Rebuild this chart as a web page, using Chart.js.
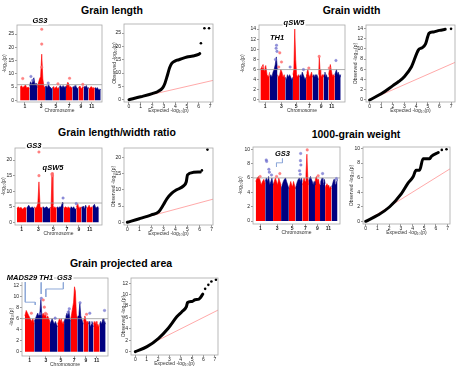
<!DOCTYPE html>
<html>
<head>
<meta charset="utf-8">
<script src="https://cdn.jsdelivr.net/npm/chart.js@4.4.0/dist/chart.umd.min.js"></script>
<style>
  body { margin: 0; background: #fff; }
  #fig { position: relative; width: 463px; height: 374px; overflow: hidden; font-family: 'Liberation Sans', Arial, sans-serif; }
  #fig canvas { position: absolute; }
  .ttl { position: absolute; font-weight: bold; font-size: 10.5px; white-space: nowrap; transform: translate(-50%, -50%); color: #000; z-index: 5; }
  .gene { position: absolute; font-weight: bold; font-style: italic; font-size: 7.5px; line-height: 8px; white-space: nowrap; transform: translate(-50%, -50%); color: #000; z-index: 5; }
  .gene.bg { background: #fff; padding: 0 1px; }
</style>
</head>
<body>
<div id="fig"></div>
<script>
// rice chromosome lengths (Mb)
const CHR_LEN = [43.3, 35.9, 36.4, 35.5, 29.9, 31.2, 29.7, 28.4, 23.0, 23.2, 29.0, 27.5];
const CHR_LABELS = ['1', '3', '5', '7', '9', '11'];
const CHR_LABEL_IDX = [0, 2, 4, 6, 8, 10];
const QQ_X_TICKS = [0, 1, 2, 3, 4, 5, 6, 7];

// Grain length
const glHeights = [
  [5, 5.5, 4.8, 5.2, 5.8, 4.6, 5, 4.4],
  [5.5, 7, 6, 7.5, 8.5, 5.8, 6.5, 4.8],
  [5.5, 6.5, 8, 9, 17.4, 8, 5.2, 4.8],
  [5, 5.5, 4.6, 6, 5.2, 4.8, 4.4, 4.8],
  [4.8, 5.2, 4.4, 4.8, 5.2, 4.4, 4.8, 4.3],
  [4.8, 5.6, 5.2, 4.8, 5.6, 4.8, 5.2, 4.8],
  [5.2, 5.8, 6.8, 6.2, 4.8, 5.2, 4.8, 4.3],
  [4.8, 5.2, 4.8, 5.6, 5.2, 4.8, 4.4, 4.8],
  [4.8, 5.2, 5.4, 4.8, 4.4, 4.8, 5.2, 4.8],
  [4.8, 5.2, 4.8, 5.2, 5.6, 4.8, 4.4, 4.8],
  [4.8, 4.4, 4.8, 5.2, 4.8, 4.4, 4.8, 4.3],
  [4.3, 4.8, 4.3, 4.8, 4.3, 3.9, 4.3, 3.9]
];
const glOutMb = [12, 50, 58, 100, 100, 100, 130, 229, 175, 290];
const glOutVal = [8.2, 9, 7.5, 12.5, 21.2, 26.8, 6.5, 8.3, 6.2, 6];
const glYTicks = [0, 5, 10, 15, 20, 25];
const glQQExp = [0, 1, 2, 2.5, 2.9, 3.1, 3.3, 3.5, 3.7, 4, 4.3, 5, 5.5, 6, 6.1];
const glQQObs = [0, 1.1, 2.3, 3.1, 4.4, 6.2, 9, 12, 13.7, 14.6, 15, 16, 16.4, 17, 17.3];
const glQQTopExp = [6.2, 6.5, 6.9];
const glQQTopObs = [21.2, 26.8, 26.8];

// Grain width
const gwHeights = [
  [6, 6.5, 7, 5.5, 6.8, 5, 4.5, 5.5],
  [4.5, 5, 4.5, 5.5, 6, 7, 8.5, 6],
  [5, 4.5, 5, 6, 5.5, 4.5, 5, 4],
  [4.5, 4, 5, 4.5, 5, 4.5, 4, 4.5],
  [5, 6, 14, 8, 5, 4.5, 5, 4.5],
  [4.5, 5, 4.5, 5.5, 5, 4.5, 4, 4.5],
  [5, 5.5, 6, 5, 4.5, 5, 5.5, 4.5],
  [4.5, 5, 4.5, 5, 4.5, 5, 4.5, 4],
  [5, 8.5, 6, 5, 4.5, 5, 4.5, 5],
  [4.5, 5, 5.5, 4.5, 5, 4.5, 4, 4.5],
  [5, 6, 7, 6, 5, 4.5, 5, 4.5],
  [5, 5.5, 6, 5, 5.5, 5, 4.5, 5]
];
const gwOutMb = [12, 75, 73, 77, 70, 90, 98, 85, 138, 200, 225, 273, 351, 320];
const gwOutVal = [6.5, 10.8, 10.2, 9.6, 8, 9.3, 7.5, 6.5, 6.5, 6, 6.3, 8.6, 7.8, 6.3];
const gwYTicks = [0, 2, 4, 6, 8, 10, 12, 14];
const gwQQExp = [0, 1, 2, 2.5, 3, 3.6, 4.2, 4.5, 4.8, 5, 5.1, 5.5, 6, 6.5];
const gwQQObs = [0, 1.2, 2.8, 3.6, 4.6, 6.5, 9.8, 10.2, 10.9, 12.4, 13, 13.3, 13.6, 13.8];
const gwQQTopExp = [7.0];
const gwQQTopObs = [13.9];

// Grain length/width ratio
const lwrHeights = [
  [4.5, 5, 4.5, 4.8, 4.2, 4.6, 4.8, 4.2],
  [4.5, 5, 5.5, 4.8, 4.5, 5, 4.5, 4.8],
  [5, 4.5, 5, 6, 13, 5, 4.5, 5],
  [4.5, 5, 4.5, 4.8, 5, 4.5, 4.2, 4.8],
  [4.5, 5, 16, 5.5, 4.5, 5, 4.5, 4.8],
  [4.5, 5, 4.5, 5, 4.8, 5.5, 6.5, 6],
  [5, 4.5, 5, 4.8, 4.5, 5, 4.5, 4.8],
  [4.5, 5, 4.8, 4.5, 5, 4.5, 4.2, 4.5],
  [5, 5.5, 6, 5, 4.5, 5, 4.5, 5],
  [4.5, 5, 4.8, 5.2, 4.5, 5, 5.5, 4.8],
  [5, 4.5, 5, 5.5, 4.8, 4.5, 5, 4.5],
  [5, 5.5, 5.8, 5, 4.5, 5, 4.8, 4.5]
];
const lwrOutMb = [100, 100, 159, 161, 210, 270];
const lwrOutVal = [15, 22.6, 15.5, 15, 7.8, 6];
const lwrYTicks = [0, 5, 10, 15, 20];
const lwrQQExp = [0, 1, 2, 2.6, 3, 3.3, 3.7, 4.1, 4.7, 4.9, 5, 5.5, 6.06];
const lwrQQObs = [0, 1.1, 2.3, 3.2, 5.4, 7.3, 9, 10, 11.3, 12.5, 14.6, 15.4, 15.5];
const lwrQQTopExp = [6.2, 6.66];
const lwrQQTopObs = [16, 22.4];

// 1000-grain weight
const tgwHeights = [
  [5.5, 6, 6.2, 5.8, 5, 5.5, 5.8, 5.2],
  [5.5, 6, 5.5, 6.2, 5, 5.5, 6, 5],
  [5, 5.5, 6, 5.5, 5, 6, 5.5, 5],
  [4.5, 5, 5.5, 5.8, 6, 5.5, 5, 4.5],
  [4.5, 5, 5.5, 5, 4.8, 5.5, 5, 4.5],
  [4.5, 5, 5.5, 5.8, 6, 5.5, 6, 5.5],
  [5, 5.5, 6, 5.5, 6.5, 9.3, 6, 5],
  [5.5, 6, 6.2, 5.8, 5.5, 5, 5.5, 5],
  [5.5, 6, 6.2, 5.8, 5.5, 5.8, 5, 5.2],
  [5, 5.5, 5.8, 6, 5.5, 5, 5.8, 5.2],
  [4.5, 5, 5.2, 4.8, 5, 4.5, 4.8, 4.5],
  [4.8, 5, 5.5, 5.8, 5.2, 5, 5.5, 5.8]
];
const tgwOutMb = [48, 50, 60, 62, 72, 95, 110, 205, 204, 206, 200, 203, 235, 285, 305, 368, 20];
const tgwOutVal = [8.5, 8.3, 7.2, 6.8, 6.4, 6.2, 6.6, 9.4, 8.4, 7.8, 7.0, 6.5, 9.9, 6.3, 6.6, 5.9, 6.2];
const tgwYTicks = [0, 2, 4, 6, 8, 10];
const tgwQQExp = [0, 1.05, 2.05, 3.05, 3.6, 4.05, 4.3, 4.6, 4.9, 5.47, 5.6, 6.2];
const tgwQQObs = [0, 0.86, 2, 3.8, 5.2, 6.1, 7, 7, 8.6, 8.6, 8.9, 9.45];
const tgwQQTopExp = [6.5, 6.9];
const tgwQQTopObs = [9.8, 9.9];
const tgwLinkMb = [122, 122, 94.7, 94.7];
const tgwLinkVal = [8.7, 8.1, 8.1, 7.55];

// Grain projected area
const gpaHeights = [
  [6.5, 7.5, 7, 6.5, 6, 5.5, 6, 5],
  [5.5, 6, 6.5, 7, 6.5, 7, 9.5, 6],
  [6.5, 7, 6.5, 7, 6, 6.5, 6, 5.5],
  [5, 5.5, 6, 5.5, 5, 5.5, 5, 4.5],
  [5, 5.5, 6, 5.5, 6, 5, 5.5, 5],
  [5.5, 6, 6.5, 7, 6.5, 7.5, 6, 5.5],
  [6, 7, 8, 9, 11.8, 11, 7, 6],
  [6, 6.5, 7, 8.8, 6.5, 6, 5.5, 5],
  [5.5, 6, 6.5, 6, 5.5, 5, 5.5, 5],
  [5, 5.5, 5, 4.5, 5, 5.5, 5, 4.5],
  [5, 5.5, 5, 5.5, 4.5, 5, 4.5, 5],
  [5, 5.5, 5, 5.5, 6, 5, 5.5, 5]
];
const gpaOutMb = [76, 70, 85, 90, 95, 100, 140, 205, 200, 255, 285, 300, 368, 30];
const gpaOutVal = [9.7, 6.9, 9.4, 8.1, 7.0, 6.8, 6.1, 7.8, 7.2, 8.9, 6.8, 7, 7.5, 7.0];
const gpaYTicks = [0, 2, 4, 6, 8, 10, 12];
const gpaQQExp = [0, 1.03, 2.05, 2.9, 3.65, 4.1, 4.5, 4.6, 5, 5.26, 5.6, 5.94];
const gpaQQObs = [0, 0.88, 2.35, 4.1, 6.1, 7, 7.9, 8.6, 8.8, 9.1, 9.2, 10.07];
const gpaQQTopExp = [6.15, 6.43, 6.7, 7.1];
const gpaQQTopObs = [11, 11.7, 12.3, 12.6];
const gpaLinkMads29Mb = [1.8, 1.8, 47.8, 47.8];
const gpaLinkMads29Val = [12.8, 9.0, 9.0, 8.5];
const gpaLinkTh1Mb = [75.3, 75.3];
const gpaLinkTh1Val = [12.6, 10.5];
const gpaLinkGs3Mb = [177.7, 177.7, 96.9, 96.9];
const gpaLinkGs3Val = [12.6, 11.4, 11.4, 9.95];

const RED = '#ff0000';
const NAVY = '#000080';
const RED_LIGHT = 'rgba(255,110,110,0.85)';
const NAVY_LIGHT = 'rgba(110,110,205,0.75)';
const LINK = '#8fa9d9';
const T = 6, R = 6, B = 12;

const CHR_START = CHR_LEN.map((l, i) => CHR_LEN.slice(0, i).reduce((a, b) => a + b, 0));
const CHR_MID = CHR_LEN.map((l, i) => CHR_START[i] + l / 2);
const fig = document.getElementById('fig');
const tickFont = { family: 'Liberation Sans', size: 5 };

function chrOf(mb) {
  let c = 0;
  while (c < 11 && mb >= CHR_START[c + 1]) c++;
  return c;
}

const boxPlugin = {
  id: 'box',
  afterDraw(chart) {
    const a = chart.chartArea, ctx = chart.ctx;
    ctx.save();
    ctx.strokeStyle = '#a8a8a8';
    ctx.lineWidth = 0.8;
    ctx.strokeRect(a.left, a.top, a.right - a.left, a.bottom - a.top);
    ctx.restore();
  }
};

function addCanvas(box, L) {
  const c = document.createElement('canvas');
  const w = box[2] - box[0] + L + R, h = box[3] - box[1] + T + B;
  c.width = w; c.height = h;
  c.style.left = (box[0] - L) + 'px';
  c.style.top = (box[1] - T) + 'px';
  c.style.width = w + 'px';
  c.style.height = h + 'px';
  fig.appendChild(c);
  return c;
}

function axes(xr, yr, xTicks, xLabels, yTicks, xTitle, yTitle, L, boldX) {
  return {
    x: {
      type: 'linear', min: xr[0], max: xr[1],
      afterBuildTicks: s => { s.ticks = xTicks.map(v => ({ value: v })); },
      afterFit: s => { s.height = B; },
      grid: { drawOnChartArea: false, tickLength: 2, color: '#555', lineWidth: 0.6 },
      border: { display: false },
      ticks: { font: { ...tickFont, weight: boldX ? 'bold' : 'normal' }, color: '#222', padding: 0, maxRotation: 0, autoSkip: false,
               callback: (v, i) => xLabels[i] },
      title: { display: true, text: xTitle, font: tickFont, color: '#333', padding: 0 }
    },
    y: {
      type: 'linear', min: yr[0], max: yr[1],
      afterBuildTicks: s => { s.ticks = yTicks.map(v => ({ value: v })); },
      afterFit: s => { s.width = L; },
      grid: { drawOnChartArea: false, tickLength: 2, color: '#555', lineWidth: 0.6 },
      border: { display: false },
      ticks: { font: tickFont, color: '#222', padding: 1, autoSkip: false, callback: v => String(v) },
      title: { display: true, text: yTitle, font: tickFont, color: '#333', padding: 0 }
    }
  };
}

const baseOpts = {
  responsive: false, animation: false, devicePixelRatio: 1,
  plugins: { legend: { display: false }, tooltip: { enabled: false } },
  layout: { padding: { left: 0, top: T, right: R, bottom: 0 } }
};

function linkSet(mb, val) {
  return { type: 'line', data: mb.map((m, i) => ({ x: m, y: val[i] })), borderColor: LINK, borderWidth: 1,
           pointRadius: 0, order: 0 };
}

function manhattan(box, L, xr, yr, yTicks, heights, outMb, outVal, thr, links) {
  const datasets = heights.map((hs, c) => ({
    type: 'line',
    data: hs.map((h, i) => ({ x: CHR_START[c] + CHR_LEN[c] * i / (hs.length - 1), y: h })),
    borderColor: c % 2 ? NAVY : RED, backgroundColor: c % 2 ? NAVY : RED,
    borderWidth: 0.6, pointRadius: 0, fill: 'origin', tension: 0, order: 3
  }));
  datasets.push({
    type: 'line', data: [{ x: xr[0], y: thr }, { x: xr[1], y: thr }],
    borderColor: '#9a9a9a', borderWidth: 0.8, pointRadius: 0, order: 2
  });
  const oc = outMb.map(m => chrOf(m) % 2 ? NAVY_LIGHT : RED_LIGHT);
  datasets.push({
    type: 'scatter', data: outMb.map((m, i) => ({ x: m, y: outVal[i] })),
    pointRadius: 1.3, pointBackgroundColor: oc, pointBorderColor: oc, pointBorderWidth: 0.4, order: 1
  });
  (links || []).forEach(l => datasets.push(linkSet(l[0], l[1])));
  new Chart(addCanvas(box, L), {
    data: { datasets },
    options: { ...baseOpts,
      scales: axes(xr, yr, CHR_LABEL_IDX.map(i => CHR_MID[i]), CHR_LABELS, yTicks, 'Chromosome', '-log\u2081\u2080(p)', L, true) },
    plugins: [boxPlugin]
  });
}

function qq(box, L, xr, yr, yTicks, exp, obs, topExp, topObs) {
  const datasets = [
    { type: 'line', data: exp.map((e, i) => ({ x: e, y: obs[i] })), borderColor: '#000', borderWidth: 3,
      pointRadius: 0, cubicInterpolationMode: 'monotone', borderCapStyle: 'round', borderJoinStyle: 'round', order: 1 },
    { type: 'scatter', data: topExp.map((e, i) => ({ x: e, y: topObs[i] })), pointRadius: 1.3,
      pointBackgroundColor: '#000', pointBorderWidth: 0, order: 0 },
    { type: 'line', data: [{ x: 0, y: 0 }, { x: xr[1], y: xr[1] }], borderColor: 'rgba(255,140,140,0.75)',
      borderWidth: 1, pointRadius: 0, order: 2 }
  ];
  new Chart(addCanvas(box, L), {
    data: { datasets },
    options: { ...baseOpts,
      scales: axes(xr, yr, QQ_X_TICKS, QQ_X_TICKS.map(String), yTicks, 'Expected -log\u2081\u2080(p)', 'Observed -log\u2081\u2080(p)', L, false) },
    plugins: [boxPlugin]
  });
}

function text(cls, str, x, y) {
  const d = document.createElement('div');
  d.className = cls;
  d.textContent = str;
  d.style.left = x + 'px';
  d.style.top = y + 'px';
  fig.appendChild(d);
}

manhattan([17, 25, 102, 102], 15, [-14.5, 379], [-0.64, 28.4], glYTicks, glHeights, glOutMb, glOutVal, 5.9);
qq([124, 24, 213, 102], 12, [-0.43, 7.24], [-0.86, 28.4], glYTicks, glQQExp, glQQObs, glQQTopExp, glQQTopObs);

manhattan([259, 25, 345, 102], 19, [-6.5, 393], [-0.4, 14.8], gwYTicks, gwHeights, gwOutMb, gwOutVal, 6.0);
qq([366, 25, 455, 102], 13, [-0.31, 7.34], [-0.4, 14.65], gwYTicks, gwQQExp, gwQQObs, gwQQTopExp, gwQQTopObs);

manhattan([15, 148, 102, 225], 14, [-9.2, 387.6], [-0.87, 23.9], lwrYTicks, lwrHeights, lwrOutMb, lwrOutVal, 6.2);
qq([124, 148, 213, 225], 13, [-0.275, 7.12], [-0.84, 22.9], lwrYTicks, lwrQQExp, lwrQQObs, lwrQQTopExp, lwrQQTopObs);

manhattan([253, 147, 340, 224], 15, [-12.4, 384.4], [-0.41, 10.3], tgwYTicks, tgwHeights, tgwOutMb, tgwOutVal, 6.0,
  [[tgwLinkMb, tgwLinkVal]]);
qq([363, 147, 450, 224], 14, [-0.23, 7.2], [-0.37, 10.2], tgwYTicks, tgwQQExp, tgwQQObs, tgwQQTopExp, tgwQQTopObs);

manhattan([22, 278, 108, 356], 13, [-13.3, 384], [-0.79, 13.4], gpaYTicks, gpaHeights, gpaOutMb, gpaOutVal, 6.0,
  [[gpaLinkMads29Mb, gpaLinkMads29Val], [gpaLinkTh1Mb, gpaLinkTh1Val], [gpaLinkGs3Mb, gpaLinkGs3Val]]);
qq([131, 278, 218, 355], 10, [-0.38, 7.28], [-0.58, 12.9], gpaYTicks, gpaQQExp, gpaQQObs, gpaQQTopExp, gpaQQTopObs);

text('ttl', 'Grain length', 112, 10);
text('ttl', 'Grain width', 351.5, 10);
text('ttl', 'Grain length/width ratio', 117, 132);
text('ttl', '1000-grain weight', 356, 134);
text('ttl', 'Grain projected area', 121, 263);

text('gene bg', 'GS3', 40, 21);
text('gene bg', 'qSW5', 294, 23);
text('gene', 'TH1', 277, 38);
text('gene bg', 'GS3', 34, 146);
text('gene', 'qSW5', 53, 168);
text('gene', 'GS3', 282.5, 154);
text('gene bg', 'MADS29', 22, 277.5);
text('gene bg', 'TH1', 46, 277.5);
text('gene bg', 'GS3', 64.5, 277.5);
</script>
</body>
</html>
